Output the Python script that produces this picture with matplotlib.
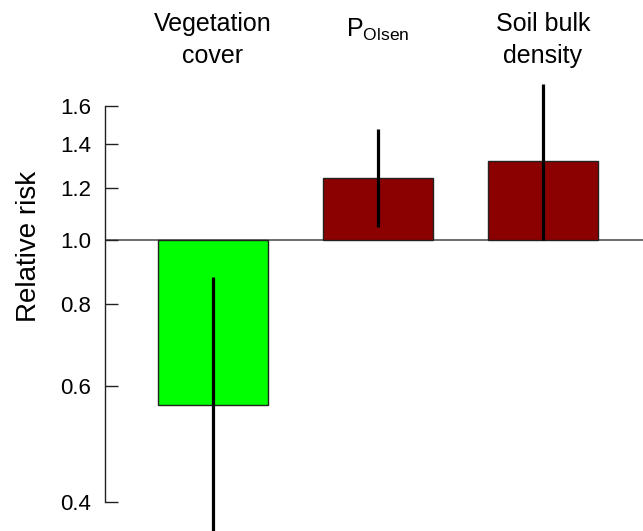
import matplotlib
matplotlib.use("Agg")
import matplotlib.pyplot as plt
import matplotlib.transforms as mtransforms
import numpy as np

plt.rcParams['font.family'] = ['Liberation Sans', 'DejaVu Sans']

categories = ["Vegetation\ncover", r"P$_{\mathregular{Olsen}}$", "Soil bulk\ndensity"]
rr = [0.562, 1.242, 1.318]
ci_low = [0.33, 1.047, 1.0]
ci_high = [0.879, 1.474, 1.725]
colors = ["#00FF00", "#8B0000", "#8B0000"]
yticks = [0.4, 0.6, 0.8, 1.0, 1.2, 1.4, 1.6]

W, H = 643, 531
fig = plt.figure(figsize=(W / 100, H / 100), dpi=100)
top_px = 75
ax = fig.add_axes([105 / W, 0, (W - 105) / W, (H - top_px) / H])

ppu = 285.7
y_top = np.exp((240 - top_px) / ppu)
y_bot = np.exp((240 - H) / ppu)
ax.set_yscale('log')
ax.set_ylim(y_bot, y_top)
x = np.arange(len(categories))
ax.set_xlim(-(213 - 105) / 165, (W - 213) / 165)

bottoms = [min(v, 1.0) for v in rr]
heights = [abs(v - 1.0) for v in rr]
ax.bar(x, heights, bottom=bottoms, width=0.667, color=colors,
       edgecolor="#222222", linewidth=1.0, zorder=2)
for xi, lo, hi in zip(x, ci_low, ci_high):
    ax.plot([xi, xi], [lo, hi], color="black", lw=2.3, zorder=3, solid_capstyle='butt')
ax.axhline(1.0, color="#555555", lw=1.2, zorder=1)

for s in ['top', 'right', 'bottom']:
    ax.spines[s].set_visible(False)
ax.spines['left'].set_bounds(0.4, 1.6)
ax.spines['left'].set_color("#222222")
ax.spines['left'].set_linewidth(1.0)
ax.set_yticks(yticks)
ax.set_yticklabels([f"{t:.1f}" for t in yticks])
ax.yaxis.set_minor_locator(matplotlib.ticker.NullLocator())
ax.tick_params(axis='y', direction='in', length=9, width=1.0, color="#222222",
               labelsize=16, pad=10)
ax.set_xticks([])
ax.set_ylabel("Relative risk", fontsize=20)
ax.yaxis.set_label_coords(-(105 - 42) / (W - 105), (H - 246) / (H - top_px))

trans = mtransforms.blended_transform_factory(ax.transData, fig.transFigure)
label_y = [1 - 40 / H, 1 - 30 / H, 1 - 40 / H]
for xi, lab, ly in zip(x, categories, label_y):
    fig.text(xi, ly, lab, transform=trans, ha='center', va='center',
             fontsize=18, linespacing=1.38)

fig.savefig("out.png", dpi=100)
